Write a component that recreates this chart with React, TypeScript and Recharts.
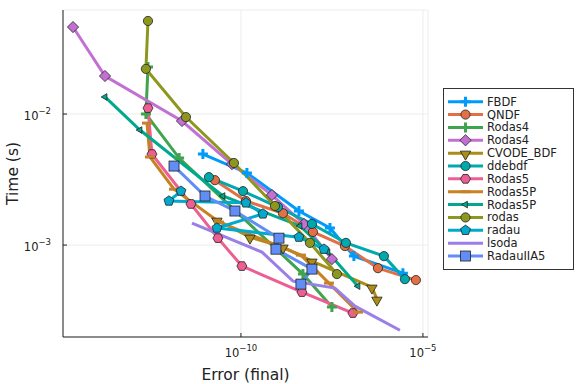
import React from "react";
import { LineChart, Line, XAxis, YAxis, CartesianGrid, Legend } from "recharts";

// error (final) / time (s) per solver
const fbdfErr = [9.0e-12, 1.46e-10, 3.92e-9, 2.79e-8, 1.27e-7, 2.82e-6];
const fbdfTime = [4.95e-3, 3.55e-3, 1.82e-3, 1.35e-3, 8.24e-4, 6.11e-4];

const qndfErr = [1.93e-11, 1.37e-10, 1.43e-9, 9.5e-9, 7.19e-8, 5.81e-7, 6.43e-6];
const qndfTime = [3.13e-3, 2.17e-3, 1.75e-3, 1.26e-3, 9.83e-4, 6.67e-4, 5.41e-4];

const rodas4Err = [2.79e-13, 2.45e-13, 2.0e-12, 5.05e-9, 3.16e-8];
const rodas4Time = [2.29e-2, 1.0e-2, 4.61e-3, 6.01e-4, 3.37e-4];

const rodas4bErr = [2.43e-15, 1.84e-14, 2.4e-12, 5.66e-11, 7.11e-10, 5.38e-9, 3.16e-8];
const rodas4bTime = [4.61e-2, 1.95e-2, 8.85e-3, 4.15e-3, 2.41e-3, 1.45e-3, 7.82e-4];

const cvodeErr = [2.19e-11, 1.77e-10, 1.43e-9, 8.93e-9, 3.97e-7, 5.45e-7];
const cvodeTime = [1.55e-3, 1.15e-3, 9.66e-4, 7.55e-4, 4.78e-4, 3.87e-4];

const ddebdfErr = [1.32e-11, 1.14e-10, 1.04e-9, 8.93e-9, 7.67e-8, 8.49e-7, 3.2e-6];
const ddebdfTime = [3.3e-3, 2.58e-3, 1.95e-3, 1.45e-3, 1.04e-3, 8.24e-4, 5.5e-4];

const rodas5Err = [2.79e-13, 3.59e-13, 4.23e-12, 2.33e-11, 1.06e-10, 4.74e-9, 1.19e-7];
const rodas5Time = [1.11e-2, 4.95e-3, 2.06e-3, 1.13e-3, 6.92e-4, 4.38e-4, 3.03e-4];

const rodas5pErr = [2.62e-13, 3.16e-13, 1.45e-12, 2.49e-11, 4.45e-9, 2.62e-8, 1.64e-7];
const rodas5pTime = [8.53e-3, 4.7e-3, 2.67e-3, 1.5e-3, 8.39e-4, 5.13e-4, 3.08e-4];

const rodas5pbErr = [1.84e-14, 1.68e-13, 3.2e-11, 4.18e-9, 2.45e-8, 1.64e-7];
const rodas5pbTime = [1.35e-2, 7.55e-3, 2.37e-3, 1.4e-3, 8.85e-4, 4.86e-4];

const rodasErr = [2.79e-13, 2.45e-13, 3.08e-12, 6.43e-11, 8.59e-10, 7.87e-9, 4.34e-8];
const rodasTime = [5.13e-2, 2.21e-2, 9.48e-3, 4.23e-3, 1.99e-3, 1.04e-3, 6.01e-4];

const radauErr = [2.25e-12, 1.05e-12, 1.37e-10, 4.02e-10, 2.19e-11, 3.92e-9, 1.91e-8];
const radauTime = [2.58e-3, 2.17e-3, 2.1e-3, 1.73e-3, 1.35e-3, 1.15e-3, 9.31e-4];

const lsodaErr = [4.51e-12, 3.78e-10, 2.69e-9, 3.82e-8, 1.36e-7, 2.33e-6];
const lsodaTime = [1.47e-3, 8.85e-4, 5.31e-4, 4.7e-4, 3.42e-4, 2.24e-4];

const radau5Err = [1.45e-12, 1.03e-11, 6.84e-11, 1.11e-9, 9.16e-10, 8.93e-9, 4.45e-9];
const radau5Time = [4.01e-3, 2.37e-3, 1.82e-3, 1.13e-3, 9.31e-4, 6.56e-4, 5.04e-4];

const xTicks = [1e-10, 1e-5];
const yTicks = [1e-3, 1e-2];

const font = "DejaVu Sans, sans-serif";
const AXIS_X = 63; // left edge of plot
const AXIS_Y = 337; // bottom edge of plot

type Shape =
  | "cross"
  | "circle"
  | "diamond"
  | "dtri"
  | "hex"
  | "hline"
  | "ltri"
  | "pent"
  | "none"
  | "rect";

const zip = (err: number[], time: number[]) =>
  err.map((e, i) => ({ err: e, time: time[i] }));

const series = [
  { name: "FBDF", color: "#009AFA", shape: "cross", data: zip(fbdfErr, fbdfTime) },
  { name: "QNDF", color: "#E36F47", shape: "circle", data: zip(qndfErr, qndfTime) },
  { name: "Rodas4", color: "#3EA44E", shape: "cross", data: zip(rodas4Err, rodas4Time) },
  { name: "Rodas4", color: "#C271D2", shape: "diamond", data: zip(rodas4bErr, rodas4bTime) },
  { name: "CVODE_BDF", color: "#AC8D18", shape: "dtri", data: zip(cvodeErr, cvodeTime) },
  { name: "ddebdf", color: "#00A9AD", shape: "circle", data: zip(ddebdfErr, ddebdfTime) },
  { name: "Rodas5", color: "#ED5E93", shape: "hex", data: zip(rodas5Err, rodas5Time) },
  { name: "Rodas5P", color: "#C68225", shape: "hline", data: zip(rodas5pErr, rodas5pTime) },
  { name: "Rodas5P", color: "#00A98D", shape: "ltri", data: zip(rodas5pbErr, rodas5pbTime) },
  { name: "rodas", color: "#8E971D", shape: "circle", data: zip(rodasErr, rodasTime) },
  { name: "radau", color: "#00A9CD", shape: "pent", data: zip(radauErr, radauTime) },
  { name: "lsoda", color: "#9B7FE9", shape: "none", data: zip(lsodaErr, lsodaTime) },
  { name: "RadauIIA5", color: "#618DF6", shape: "rect", data: zip(radau5Err, radau5Time) },
] as { name: string; color: string; shape: Shape; data: { err: number; time: number }[] }[];

const poly = (cx: number, cy: number, r: number, n: number, rot: number) =>
  Array.from({ length: n }, (_, i) => {
    const a = rot + (i * 2 * Math.PI) / n;
    return `${cx + r * Math.cos(a)},${cy + r * Math.sin(a)}`;
  }).join(" ");

const Marker = ({ shape, cx, cy, color }: { shape: Shape; cx: number; cy: number; color: string }) => {
  const st = { stroke: "#222", strokeWidth: 0.8, fill: color };
  switch (shape) {
    case "circle":
      return <circle cx={cx} cy={cy} r={4.6} {...st} />;
    case "cross":
      return (
        <path
          d={`M${cx - 5},${cy}H${cx + 5}M${cx},${cy - 5}V${cy + 5}`}
          stroke={color}
          strokeWidth={3}
          fill="none"
        />
      );
    case "diamond":
      return <polygon points={poly(cx, cy, 5.6, 4, -Math.PI / 2)} {...st} />;
    case "dtri":
      return <polygon points={poly(cx, cy + 1, 6, 3, Math.PI / 2)} {...st} />;
    case "hex":
      return <polygon points={poly(cx, cy, 5, 6, 0)} {...st} />;
    case "hline":
      return <path d={`M${cx - 5},${cy}H${cx + 5}`} stroke={color} strokeWidth={3} />;
    case "ltri":
      return <polygon points={poly(cx, cy, 3.8, 3, Math.PI)} {...st} />;
    case "pent":
      return <polygon points={poly(cx, cy, 5.2, 5, -Math.PI / 2)} {...st} />;
    case "rect":
      return <rect x={cx - 5} y={cy - 5} width={10} height={10} {...st} />;
    default:
      return null;
  }
};

const XTick = ({ x, payload }: any) => {
  const exp = Math.round(Math.log10(payload.value));
  return (
    <g>
      <line x1={x} x2={x} y1={AXIS_Y} y2={AXIS_Y - 4} stroke="#222" />
      <text x={x} y={AXIS_Y + 20} textAnchor="middle" fontSize={11.5} fontFamily={font} fill="#222">
        10
        <tspan dy={-6} fontSize={8.5}>{`\u2212${-exp}`}</tspan>
      </text>
    </g>
  );
};

const YTick = ({ y, payload }: any) => {
  const exp = Math.round(Math.log10(payload.value));
  return (
    <g>
      <line x1={AXIS_X} x2={AXIS_X + 4} y1={y} y2={y} stroke="#222" />
      <text x={AXIS_X - 12} y={y + 6} textAnchor="end" fontSize={11.5} fontFamily={font} fill="#222">
        10
        <tspan dy={-6} fontSize={8.5}>{`\u2212${-exp}`}</tspan>
      </text>
    </g>
  );
};

const LegendBox = () => {
  const rowH = 12.86;
  return (
    <svg width={131} height={182}>
      <rect x={0.5} y={0.5} width={130} height={181} fill="#fff" stroke="#333" strokeWidth={1} />
      {series.map((s, i) => {
        const cy = 13.7 + i * rowH;
        return (
          <g key={i}>
            <line x1={5} x2={40} y1={cy} y2={cy} stroke={s.color} strokeWidth={3} />
            <Marker shape={s.shape} cx={22.5} cy={cy} color={s.color} />
            <text x={44} y={cy + 4} fontSize={11.5} fontFamily={font} fill="#222">
              {s.name}
            </text>
          </g>
        );
      })}
    </svg>
  );
};

export default function App() {
  return (
    <div style={{ position: "absolute", left: 0, top: 0, background: "#fff" }}>
      <LineChart width={576} height={384} margin={{ top: 10, right: 148, bottom: 0, left: 0 }}>
        <CartesianGrid stroke="#ececec" strokeWidth={1} />
        <XAxis
          dataKey="err"
          type="number"
          scale="log"
          domain={[1.29e-15, 1.38e-5]}
          allowDataOverflow
          ticks={xTicks}
          height={47}
          tickLine={false}
          axisLine={{ stroke: "#222" }}
          tick={<XTick />}
          label={{
            value: "Error (final)",
            position: "insideBottom",
            offset: 4,
            fontSize: 15.5,
            fontFamily: font,
            fill: "#222",
          }}
        />
        <YAxis
          dataKey="time"
          type="number"
          scale="log"
          domain={[1.99e-4, 0.0622]}
          allowDataOverflow
          ticks={yTicks}
          width={63}
          tickLine={false}
          axisLine={{ stroke: "#222" }}
          tick={<YTick />}
          label={{
            value: "Time (s)",
            angle: -90,
            position: "insideLeft",
            offset: 12,
            fontSize: 15.5,
            fontFamily: font,
            fill: "#222",
            style: { textAnchor: "middle" },
          }}
        />
        <Legend
          layout="vertical"
          align="center"
          verticalAlign="middle"
          wrapperStyle={{ left: 443, top: 88, width: 131, height: 182 }}
          content={() => <LegendBox />}
        />
        {series.map((s, i) => (
          <Line
            key={i}
            data={s.data}
            dataKey="time"
            name={s.name}
            type="linear"
            stroke={s.color}
            strokeWidth={3}
            isAnimationActive={false}
            activeDot={false}
            dot={(p: any) => (
              <Marker key={`${i}-${p.index}`} shape={s.shape} cx={p.cx} cy={p.cy} color={s.color} />
            )}
          />
        ))}
      </LineChart>
    </div>
  );
}
